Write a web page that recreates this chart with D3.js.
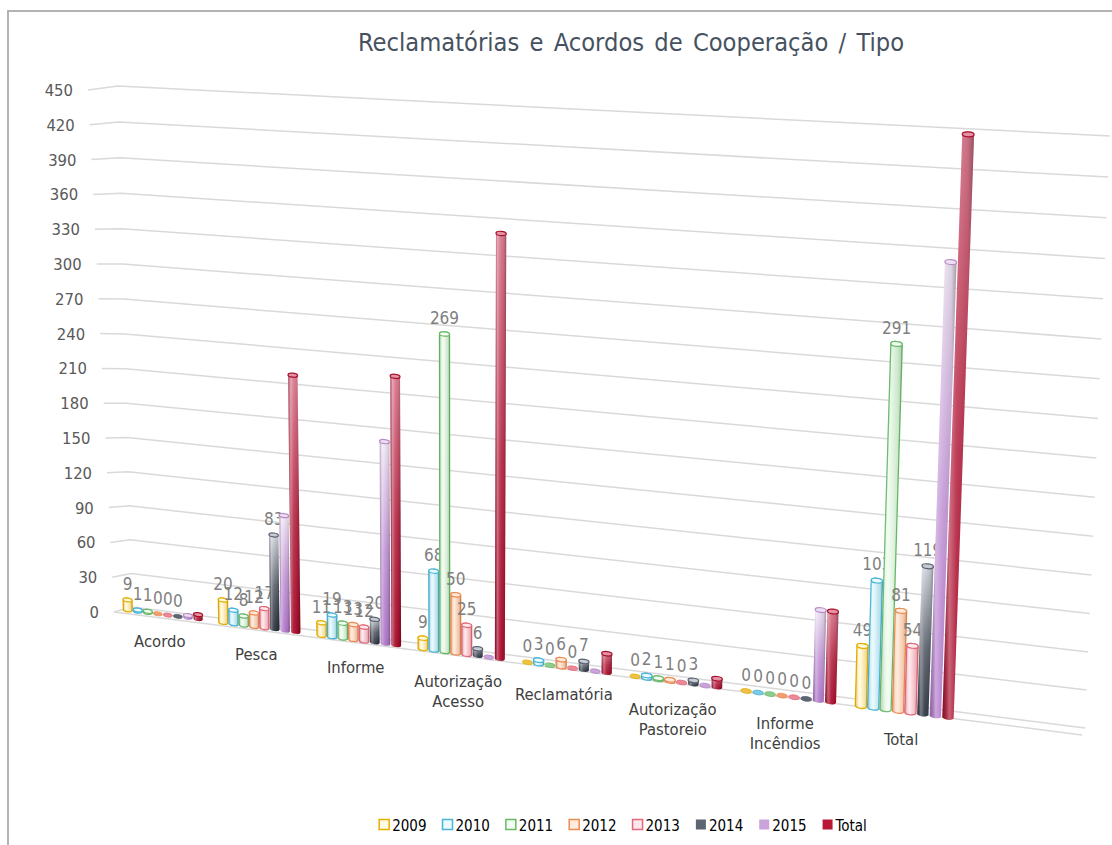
<!DOCTYPE html>
<html>
<head>
<meta charset="utf-8">
<script src="https://cdn.jsdelivr.net/npm/d3@7"></script>
<style>
  html, body { margin: 0; padding: 0; background: #fff; }
  svg { display: block; }
  text { font-family: "DejaVu Sans Condensed", "DejaVu Sans", sans-serif; }
</style>
</head>
<body>
<svg id="chart" width="1112" height="845"></svg>
<script>
// ---- data ----
const chartTitle = "Reclamatórias e Acordos de Cooperação / Tipo";
const categories = ["Acordo", "Pesca", "Informe", "Autorização Acesso", "Reclamatória",
                    "Autorização Pastoreio", "Informe Incêndios", "Total"];
const seriesNames = ["2009", "2010", "2011", "2012", "2013", "2014", "2015", "Total"];
const v2009  = [9, 20, 11, 9, 0, 0, 0, 49];
const v2010  = [1, 12, 19, 68, 3, 2, 0, 103];
const v2011  = [1, 8, 13, 269, 0, 1, 0, 291];
const v2012  = [0, 12, 13, 50, 6, 1, 0, 81];
const v2013  = [0, 17, 12, 25, 0, 0, 0, 54];
const v2014  = [0, 83, 20, 6, 7, 3, 0, 119];
const v2015  = [2, 101, 174, 0, 0, 0, 74, 357];
const vTotal = [4, 223, 230, 355, 16, 7, 74, 454];
const labelledSeries = ["2009", "2010", "2011", "2012", "2013", "2014"];
const axisTicks = [0, 30, 60, 90, 120, 150, 180, 210, 240, 270, 300, 330, 360, 390, 420, 450];

const seriesValues = { "2009": v2009, "2010": v2010, "2011": v2011, "2012": v2012,
                       "2013": v2013, "2014": v2014, "2015": v2015, "Total": vTotal };

// ---- look of each series ----
const styles = {
  "2009":  { kind: "pastel", edge: "#e6b000", light: "#fffae2", mid: "#fbe08a", disc: "#ecc24a" },
  "2010":  { kind: "pastel", edge: "#48b4d6", light: "#eafafe", mid: "#ace2f2", disc: "#7ccbe3" },
  "2011":  { kind: "pastel", edge: "#68b968", light: "#f3fcf3", mid: "#c6ecc6", disc: "#8fce8f" },
  "2012":  { kind: "pastel", edge: "#ec8c52", light: "#feeadc", mid: "#f8bf9a", disc: "#f0a070" },
  "2013":  { kind: "pastel", edge: "#e2687a", light: "#fee8ec", mid: "#f6aab5", disc: "#ec8a98" },
  "2014":  { kind: "solid", top: "#d8dce3", bottom: "#2c3340", cap: "#c6cbd3", edge: "#596170", disc: "#5d6573" },
  "2015":  { kind: "solid", top: "#f2e8f6", bottom: "#b077ca", cap: "#ecdff2", edge: "#b68bc8", disc: "#c9a3da" },
  "Total": { kind: "solid", top: "#dc7c92", bottom: "#a90b2a", cap: "#e392a4", edge: "#a8102c", disc: "#b81836" }
};

// ---- perspective helpers ----
// maps the unit square (u across the categories, w up the value axis) onto a quadrilateral
function homography(p0, p1, p2, p3) {
  const [x0, y0] = p0, [x1, y1] = p1, [x2, y2] = p2, [x3, y3] = p3;
  const dx1 = x1 - x2, dx2 = x3 - x2, dx3 = x0 - x1 + x2 - x3;
  const dy1 = y1 - y2, dy2 = y3 - y2, dy3 = y0 - y1 + y2 - y3;
  const den = dx1 * dy2 - dx2 * dy1;
  const g = (dx3 * dy2 - dx2 * dy3) / den;
  const h = (dx1 * dy3 - dx3 * dy1) / den;
  const a = x1 - x0 + g * x1, b = x3 - x0 + h * x3, c = x0;
  const d = y1 - y0 + g * y1, e = y3 - y0 + h * y3, f = y0;
  return (u, w) => {
    const z = g * u + h * w + 1;
    return [(a * u + b * w + c) / z, (d * u + e * w + f) / z];
  };
}

// back wall (gridlines) and the plane the columns stand in
const wall = homography([132, 607], [1085, 728], [1110, 136], [118, 86]);
const front = homography([125, 609.5], [1082, 735], [1108, 147], [113, 95]);

const valueScale = d3.scaleLinear().domain([0, 450]).range([0, 1]);
const catScale = d3.scalePoint().domain(categories).range([0.045, 0.834]);
const seriesScale = d3.scaleBand().domain(seriesNames).range([-0.047, 0.047]).paddingInner(0.1);
const sideX = d3.scaleLinear().domain([0, 450]).range([114, 88]);
const sideY = d3.scaleLinear().domain([0, 450]).range([612, 90]);

const svg = d3.select("#chart");
const defs = svg.append("defs");

// frame
svg.append("rect")
  .attr("x", 8).attr("y", 11).attr("width", 1140).attr("height", 880)
  .attr("fill", "#fff").attr("stroke", "#b3b3b3").attr("stroke-width", 2);

// title
const title = svg.append("text")
  .attr("x", 631).attr("y", 51)
  .attr("text-anchor", "middle")
  .attr("fill", "#46525f")
  .style("font-size", "23px")
  .style("word-spacing", "3px")
  .text(chartTitle);
const tw = title.node().getComputedTextLength();
title.style("font-size", (23 * 548 / tw).toFixed(2) + "px");

// gridlines: short run on the side wall, then across the back wall
const line = d3.line();
const grid = svg.append("g").attr("fill", "none").attr("stroke", "#d9d9d9").attr("stroke-width", 1.5);
axisTicks.forEach(t => {
  const w = valueScale(t);
  grid.append("path").attr("d", line([[sideX(t), sideY(t)], wall(0, w), wall(1, w)]));
});
grid.append("path").attr("d", line([[sideX(0), sideY(0)], front(1, 0)]));

// value axis labels
svg.append("g").selectAll("text").data(axisTicks).join("text")
  .attr("x", t => sideX(t) - 15)
  .attr("y", t => sideY(t) + 6)
  .attr("text-anchor", "end")
  .attr("fill", "#595959")
  .style("font-size", "16.5px")
  .text(t => t);

// gradients
const shine = defs.append("linearGradient").attr("id", "shine").attr("x1", 0).attr("x2", 1).attr("y1", 0).attr("y2", 0);
[[0, "#000", 0.18], [0.22, "#fff", 0.35], [0.45, "#fff", 0.08], [0.8, "#000", 0.08], [1, "#000", 0.32]]
  .forEach(([o, c, a]) => shine.append("stop").attr("offset", o).attr("stop-color", c).attr("stop-opacity", a));

seriesNames.forEach((s, i) => {
  const st = styles[s];
  if (st.kind === "pastel") {
    const gr = defs.append("linearGradient").attr("id", "body" + i).attr("x1", 0).attr("x2", 1).attr("y1", 0).attr("y2", 0);
    gr.append("stop").attr("offset", 0).attr("stop-color", st.mid);
    gr.append("stop").attr("offset", 0.35).attr("stop-color", st.light);
    gr.append("stop").attr("offset", 1).attr("stop-color", st.mid);
  } else {
    const gr = defs.append("linearGradient").attr("id", "body" + i).attr("x1", 0).attr("x2", 0).attr("y1", 0).attr("y2", 1);
    gr.append("stop").attr("offset", 0).attr("stop-color", st.top);
    gr.append("stop").attr("offset", 0.55).attr("stop-color", d3.interpolateRgb(st.top, st.bottom)(0.7));
    gr.append("stop").attr("offset", 1).attr("stop-color", st.bottom);
  }
});

// columns drawn as cylinders, one layer per series (labels go with their series)
const ratio = 0.42;
function ellipseArgs(p, q) {
  const rx = Math.hypot(q[0] - p[0], q[1] - p[1]) / 2;
  const ang = Math.atan2(q[1] - p[1], q[0] - p[0]) * 180 / Math.PI;
  return { rx, ry: rx * ratio, ang, cx: (p[0] + q[0]) / 2, cy: (p[1] + q[1]) / 2 };
}

const halfW = seriesScale.bandwidth() / 2;
seriesNames.forEach((s, si) => {
  const st = styles[s];
  const vals = seriesValues[s];
  const layer = svg.append("g");
  categories.forEach((c, ci) => {
    const v = vals[ci];
    const uc = catScale(c) + seriesScale(s) + halfW;
    const w = valueScale(v);
    const bl = front(uc - halfW, 0), br = front(uc + halfW, 0);
    const tl = front(uc - halfW, w), tr = front(uc + halfW, w);
    const eb = ellipseArgs(bl, br), et = ellipseArgs(tl, tr);
    if (v > 0) {
      const d = `M${tl}L${bl}A${eb.rx},${eb.ry} ${eb.ang} 0 0 ${br}L${tr}A${et.rx},${et.ry} ${et.ang} 0 0 ${tl}Z`;
      layer.append("path").attr("d", d)
        .attr("fill", `url(#body${si})`)
        .attr("stroke", st.kind === "pastel" ? st.edge : "none")
        .attr("stroke-width", 1.3);
      layer.append("path").attr("d", d).attr("fill", "url(#shine)")
        .attr("opacity", st.kind === "pastel" ? 0.45 : 1);
      layer.append("ellipse")
        .attr("cx", et.cx).attr("cy", et.cy).attr("rx", et.rx).attr("ry", et.ry)
        .attr("transform", `rotate(${et.ang},${et.cx},${et.cy})`)
        .attr("fill", st.kind === "pastel" ? st.light : st.cap)
        .attr("stroke", st.edge).attr("stroke-width", 1.2);
    } else {
      layer.append("ellipse")
        .attr("cx", eb.cx).attr("cy", eb.cy).attr("rx", eb.rx).attr("ry", eb.ry)
        .attr("transform", `rotate(${eb.ang},${eb.cx},${eb.cy})`)
        .attr("fill", st.disc).attr("stroke", st.edge).attr("stroke-width", 0.8);
    }
    if (labelledSeries.includes(s)) {
      layer.append("text")
        .attr("x", et.cx).attr("y", et.cy - et.ry - 8)
        .attr("text-anchor", "middle")
        .attr("fill", "#7f7f7f")
        .style("font-size", "17px")
        .text(v);
    }
  });
});

// category labels along the front edge
const catG = svg.append("g");
categories.forEach(c => {
  const uc = catScale(c);
  const p = front(uc, 0);
  const t = catG.append("text")
    .attr("x", p[0] - 3).attr("y", p[1] + 33)
    .attr("text-anchor", "middle")
    .attr("fill", "#404040")
    .style("font-size", "16.5px");
  c.split(" ").forEach((word, k) => {
    t.append("tspan").attr("x", p[0] - 3).attr("dy", k === 0 ? 0 : 20).text(word);
  });
});

// legend
const legend = svg.append("g");
const items = legend.selectAll("g").data(seriesNames).join("g");
items.append("rect")
  .attr("width", 10).attr("height", 10).attr("y", -5.5)
  .attr("fill", s => styles[s].kind === "pastel" ? styles[s].light : styles[s].disc)
  .attr("stroke", s => styles[s].kind === "pastel" ? styles[s].edge : "none")
  .attr("stroke-width", 1.5);
items.append("text")
  .attr("x", 13).attr("y", 5.5)
  .attr("fill", "#000")
  .style("font-size", "15px")
  .text(s => s);
let cursor = 0;
items.each(function () {
  d3.select(this).attr("transform", `translate(${cursor},825)`);
  cursor += 13 + d3.select(this).select("text").node().getComputedTextLength() + 16;
});
const legendWidth = cursor - 16;
legend.attr("transform", `translate(${623 - legendWidth / 2},0)`);
</script>
</body>
</html>
